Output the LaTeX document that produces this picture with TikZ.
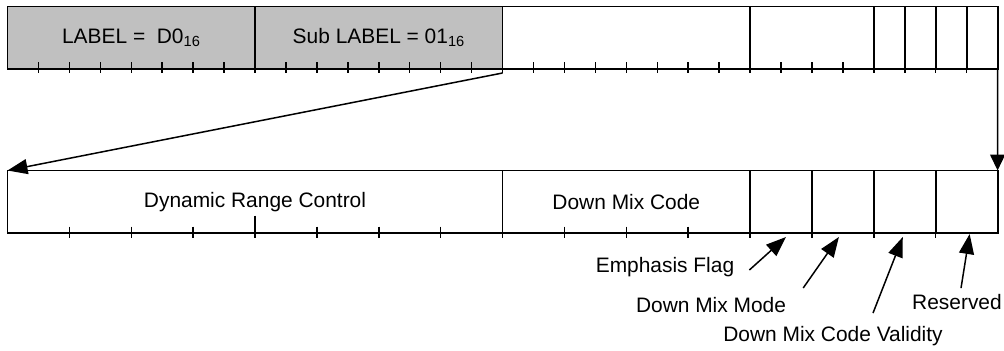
\documentclass[tikz,border=0pt]{standalone}
\usepackage{fontspec}
\setmainfont{Liberation Sans}
\usetikzlibrary{arrows.meta, positioning}
\definecolor{labelgray}{RGB}{192,192,192}
\def\bitw{30.94bp}

\begin{document}
\begin{tikzpicture}[x=1bp, y=1bp,
    field/.style={rectangle, draw, line width=1.8bp, inner sep=0pt, outer sep=0pt,
                  minimum height=62.5bp, minimum width=#1*\bitw,
                  font=\fontsize{21}{25}\selectfont},
    field/.default=1,
    bittick/.style={line width=1.5bp},
    ptr/.style={line width=1.5bp, -{Triangle[length=20bp, width=15bp]}},
    note/.style={font=\fontsize{21}{25}\selectfont, inner sep=1pt}
]
\useasboundingbox (0,0) rectangle (1004,-350);

% Top word - label, sub label, data bits
\node[field=8, fill=labelgray, anchor=north west] (lab) at (7.5,-6.5)
    {LABEL =\ \ D0\textsubscript{16}};
\node[field=8, fill=labelgray, right=0pt of lab] (sublab)
    {Sub LABEL = 01\textsubscript{16}};
\node[field=8, right=0pt of sublab] (t16) {};
\node[field=4, right=0pt of t16] (t24) {};
\node[field=1, right=0pt of t24] (t28) {};
\node[field=1, right=0pt of t28] (t29) {};
\node[field=1, right=0pt of t29] (t30) {};
\node[field=1, right=0pt of t30] (t31) {};

\foreach \i in {1,...,31}
    \draw[bittick] ([xshift=\i*\bitw, yshift=7bp]lab.south west) -- ++(0,-10.5);

% Bottom word - the data bits spread out
\node[field=16, anchor=north west] (drc) at (7.5,-170.5) {Dynamic Range Control};
\node[field=8, right=0pt of drc] (dmc) {Down Mix Code};
\node[field=2, right=0pt of dmc] (emph) {};
\node[field=2, right=0pt of emph] (dmmode) {};
\node[field=2, right=0pt of dmmode] (dmvalid) {};
\node[field=2, right=0pt of dmvalid] (resv) {};

\foreach \i in {2,4,...,30}
    \draw[bittick] ([xshift=\i*\bitw, yshift=6.5bp]drc.south west) -- ++(0,-11);
\draw[bittick] ([xshift=8*\bitw, yshift=17.5bp]drc.south west) -- ++(0,-22);

% Expansion arrows
\draw[ptr] ([yshift=-4bp]sublab.south east) -- (drc.north west);
\draw[line width=1.5bp, -{Triangle[length=16bp, width=15bp]}] (t31.south east) -- (resv.north east);

% Flag names
\node[note] (emphtxt) at (665,-267) {Emphasis Flag};
\node[note] (modetxt) at (711,-305) {Down Mix Mode};
\node[note] (validtxt) at (833,-336) {Down Mix Code Validity};
\node[note] (resvtxt) at (957,-302) {Reserved};

\draw[ptr] ([xshift=14bp, yshift=-3bp]emphtxt.east) -- ([xshift=5bp, yshift=-4bp]emph.south);
\draw[ptr] ([xshift=16bp, yshift=17bp]modetxt.east) -- ([xshift=-4bp, yshift=-4bp]dmmode.south);
\draw[ptr] ([xshift=40bp, yshift=12bp]validtxt.north) -- ([xshift=-2bp, yshift=-4bp]dmvalid.south);
\draw[ptr] ([xshift=4bp, yshift=5bp]resvtxt.north) -- ([xshift=3bp, yshift=-1bp]resv.south);
\end{tikzpicture}
\end{document}
